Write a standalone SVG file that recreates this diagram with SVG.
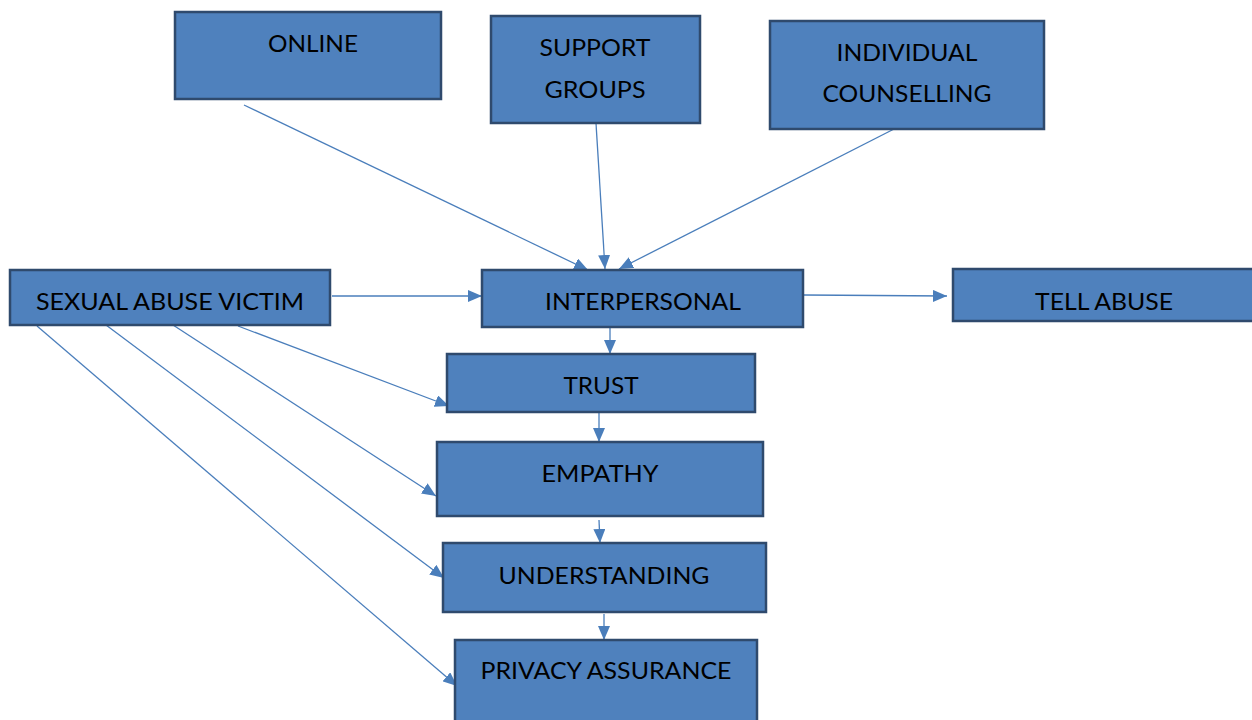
<svg xmlns="http://www.w3.org/2000/svg" width="1252" height="720" viewBox="0 0 1252 720">
  <defs>
    <marker id="arrow" viewBox="0 0 14 12" refX="14" refY="6" markerWidth="14" markerHeight="12" markerUnits="userSpaceOnUse" orient="auto">
      <path d="M0,0 L14,6 L0,12 Z" fill="#4A7EBB"/>
    </marker>
    <style>
      .box { fill: #4F81BD; stroke: #2F4A6D; stroke-width: 2.5; }
      .lbl { font-family: Lato, "Open Sans", "Liberation Sans", sans-serif; font-size: 23px; fill: #000; text-anchor: middle; }
      .edge { stroke: #4A7EBB; stroke-width: 1.3; fill: none; marker-end: url(#arrow); }
    </style>
  </defs>
  <rect width="1252" height="720" fill="#FFFFFF"/>

  <g id="connectors">
    <line class="edge" x1="244" y1="105" x2="588" y2="270"/>
    <line class="edge" x1="596" y1="123" x2="605" y2="269"/>
    <line class="edge" x1="896" y1="128" x2="619" y2="269"/>
    <line class="edge" x1="332" y1="296" x2="482" y2="296"/>
    <line class="edge" x1="804" y1="295" x2="947" y2="296"/>
    <line class="edge" x1="610" y1="328" x2="610" y2="354"/>
    <line class="edge" x1="599" y1="413" x2="599" y2="442"/>
    <line class="edge" x1="599" y1="520" x2="600" y2="543"/>
    <line class="edge" x1="604" y1="614" x2="604" y2="640"/>
    <line class="edge" x1="238" y1="326" x2="449" y2="406"/>
    <line class="edge" x1="173" y1="325" x2="436" y2="496"/>
    <line class="edge" x1="106" y1="325" x2="444" y2="578"/>
    <line class="edge" x1="37" y1="326" x2="457" y2="686"/>
  </g>

  <g id="online">
    <rect class="box" x="175" y="12" width="266" height="87"/>
    <text class="lbl" x="313" y="52" textLength="90" lengthAdjust="spacingAndGlyphs">ONLINE</text>
  </g>
  <g id="support-groups">
    <rect class="box" x="491" y="16" width="209" height="107"/>
    <text class="lbl" x="595" y="56" textLength="111" lengthAdjust="spacingAndGlyphs">SUPPORT</text>
    <text class="lbl" x="595" y="98" textLength="101" lengthAdjust="spacingAndGlyphs">GROUPS</text>
  </g>
  <g id="individual-counselling">
    <rect class="box" x="770" y="21" width="274" height="108"/>
    <text class="lbl" x="907" y="61" textLength="141" lengthAdjust="spacingAndGlyphs">INDIVIDUAL</text>
    <text class="lbl" x="907" y="102" textLength="169" lengthAdjust="spacingAndGlyphs">COUNSELLING</text>
  </g>
  <g id="sexual-abuse-victim">
    <rect class="box" x="10" y="270" width="320" height="55"/>
    <text class="lbl" x="170" y="310" textLength="268" lengthAdjust="spacingAndGlyphs">SEXUAL ABUSE VICTIM</text>
  </g>
  <g id="interpersonal">
    <rect class="box" x="482" y="270" width="321" height="57"/>
    <text class="lbl" x="643" y="310" textLength="196" lengthAdjust="spacingAndGlyphs">INTERPERSONAL</text>
  </g>
  <g id="tell-abuse">
    <rect class="box" x="953" y="269" width="310" height="52"/>
    <text class="lbl" x="1104" y="310" textLength="138" lengthAdjust="spacingAndGlyphs">TELL ABUSE</text>
  </g>
  <g id="trust">
    <rect class="box" x="447" y="354" width="308" height="58"/>
    <text class="lbl" x="601" y="394" textLength="75" lengthAdjust="spacingAndGlyphs">TRUST</text>
  </g>
  <g id="empathy">
    <rect class="box" x="437" y="442" width="326" height="74"/>
    <text class="lbl" x="600" y="482" textLength="117" lengthAdjust="spacingAndGlyphs">EMPATHY</text>
  </g>
  <g id="understanding">
    <rect class="box" x="443" y="543" width="323" height="69"/>
    <text class="lbl" x="604" y="584" textLength="211" lengthAdjust="spacingAndGlyphs">UNDERSTANDING</text>
  </g>
  <g id="privacy-assurance">
    <rect class="box" x="455" y="640" width="302" height="90"/>
    <text class="lbl" x="606" y="679" textLength="251" lengthAdjust="spacingAndGlyphs">PRIVACY ASSURANCE</text>
  </g>
</svg>
